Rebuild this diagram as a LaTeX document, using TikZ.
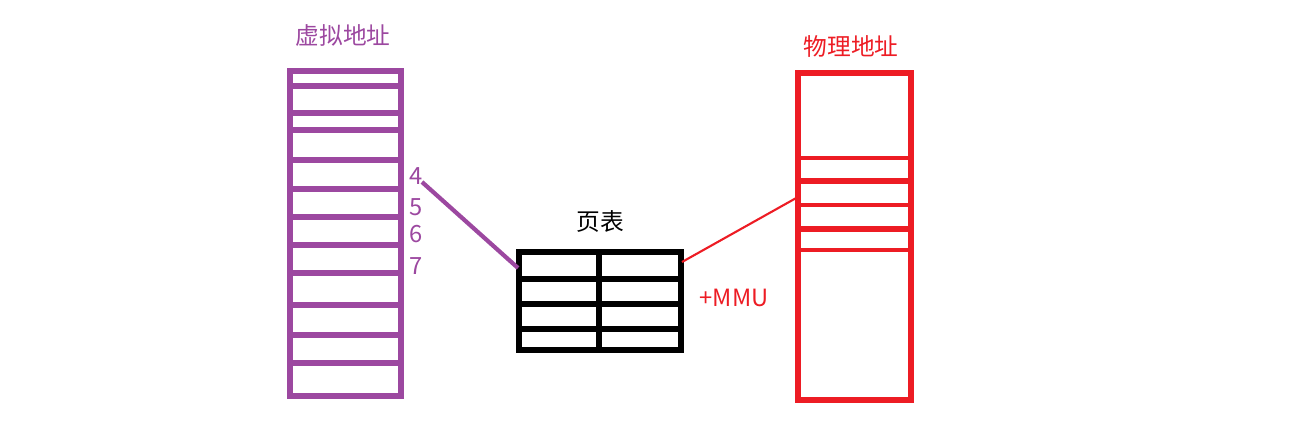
\documentclass[tikz,border=0pt]{standalone}
\usepackage{fontspec}
\newfontfamily\cjk{Noto Sans CJK SC}
\usetikzlibrary{positioning}
\definecolor{cpurple}{RGB}{156,72,160}
\definecolor{cred}{RGB}{237,28,36}

\begin{document}
\begin{tikzpicture}[x=0.02cm, y=-0.02cm, font=\cjk\fontsize{13.5}{16}\selectfont]
  \useasboundingbox (0,0) rectangle (1316,444);

  \node [cpurple] (vtitle) at (343,35) {虚拟地址};
  \draw [cpurple, line width=3.3pt] (290,71) rectangle (401,396);
  \foreach \y in {86,113,130,160,189,217,245,273,305,335,363}
    \draw [cpurple, line width=3.3pt] (290,\y) -- (401,\y);
  \node [cpurple] (n4) at (416,176) {4};
  \node [cpurple] (n5) at (416,207) {5};
  \node [cpurple] (n6) at (416,234) {6};
  \node [cpurple] (n7) at (416,266) {7};

  \node (ptitle) at (600,222) {页表};
  \draw [line width=3.5pt] (519,252) rectangle (681,350);
  \draw [line width=3.5pt] (599,252) -- (599,350);
  \foreach \y in {279,304,329}
    \draw [line width=3.5pt] (519,\y) -- (681,\y);
  \node [cred] (mmu) at (734,298) {+MMU};

  \node [cred] (ptitle) at (851,46) {物理地址};
  \draw [cred, line width=3.3pt] (798,73) rectangle (911,400);
  \foreach \y/\w in {158/2pt,181/3.3pt,205/2pt,229/3.3pt,250/2pt}
    \draw [cred, line width=\w] (798,\y) -- (911,\y);

  \coordinate (v4) at (422,182);
  \coordinate (ptin) at (518,268);
  \coordinate (ptout) at (682,262);
  \coordinate (pin) at (798,197);
  \draw [cpurple, line width=2.4pt] (v4) -- (ptin);
  \draw [cred, line width=1.2pt] (ptout) -- (pin);
\end{tikzpicture}
\end{document}
